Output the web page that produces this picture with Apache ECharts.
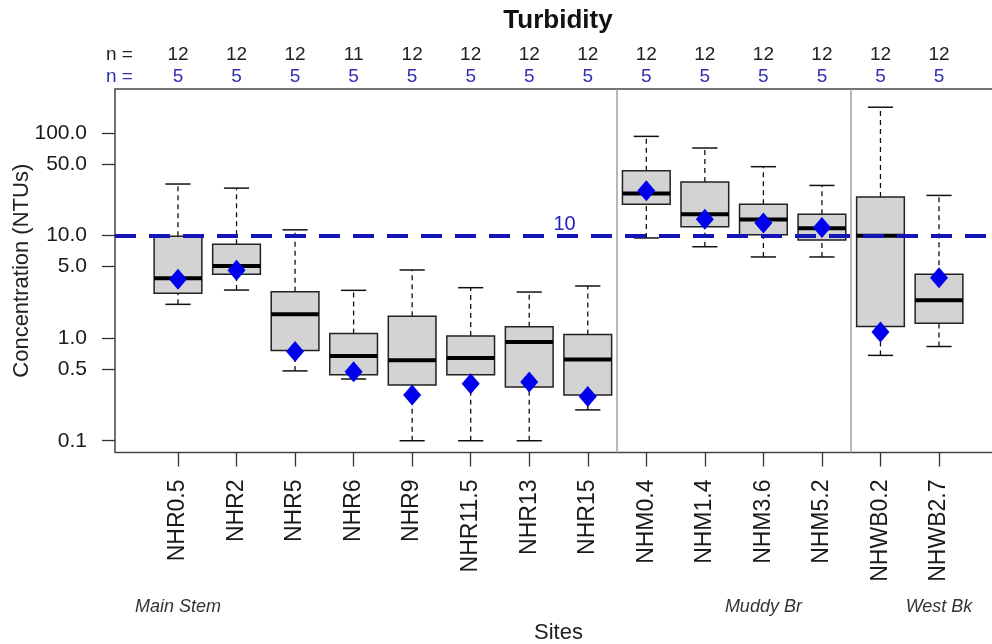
<!DOCTYPE html>
<html>
<head>
<meta charset="utf-8">
<script src="https://cdn.jsdelivr.net/npm/echarts@6/dist/echarts.min.js"></script>
<style>
  html, body { margin: 0; padding: 0; background: #fff; }
  #chart { width: 992px; height: 644px; }
</style>
</head>
<body>
<div id="chart"></div>
<script>
// sites along the x axis (positions 1..14)
const sites = ['NHR0.5', 'NHR2', 'NHR5', 'NHR6', 'NHR9', 'NHR11.5', 'NHR13', 'NHR15',
  'NHM0.4', 'NHM1.4', 'NHM3.6', 'NHM5.2', 'NHWB0.2', 'NHWB2.7'];
// sample counts shown above the plot
const nAll = [12, 12, 12, 11, 12, 12, 12, 12, 12, 12, 12, 12, 12, 12];
const nRecent = [5, 5, 5, 5, 5, 5, 5, 5, 5, 5, 5, 5, 5, 5];
// box stats (NTU)
const whiskerLow = [2.14, 2.95, 0.48, 0.40, 0.10, 0.10, 0.10, 0.20, 9.5, 7.8, 6.2, 6.2, 0.68, 0.83];
const q1 = [2.74, 4.21, 0.76, 0.44, 0.35, 0.44, 0.335, 0.28, 20.3, 12.2, 10.2, 9.1, 1.30, 1.40];
const median = [3.85, 5.07, 1.71, 0.67, 0.61, 0.64, 0.92, 0.62, 25.8, 16.2, 14.4, 11.8, 10.0, 2.34];
const q3 = [9.9, 8.26, 2.84, 1.11, 1.64, 1.05, 1.29, 1.09, 43, 33.4, 20.3, 16.2, 23.9, 4.21];
const whiskerHigh = [31.9, 29.1, 11.4, 2.93, 4.63, 3.11, 2.82, 3.23, 93, 71.6, 47.1, 30.9, 179, 24.7];
// blue diamonds (recent mean)
const means = [3.76, 4.60, 0.74, 0.47, 0.28, 0.36, 0.375, 0.27, 27.4, 14.5, 13.3, 12.0, 1.15, 3.89];
// y ticks
const yTicks = [0.1, 0.5, 1, 5, 10, 50, 100];
const yMin = 0.0768;
const yMax = 269.5;
// groups under the axis
const groupNames = ['Main Stem', 'Muddy Br', 'West Bk'];
const groupPos = [1, 11, 14];
const dividers = [8.5, 12.5];
const standard = 10;

const lg = Math.log10;
const pos = sites.map((s, i) => i + 1);
const xMin = -0.076;
const xMax = 15.076;

const boxData = pos.map((p, i) => [p, lg(whiskerLow[i]), lg(q1[i]), lg(median[i]), lg(q3[i]), lg(whiskerHigh[i])]);
const meanData = pos.map((p, i) => [p, lg(means[i])]);

const FONT = '"Liberation Sans", Arial, sans-serif';

function renderBox(params, api) {
  const x = api.value(0);
  const lo = api.coord([x, api.value(1)]);
  const b1 = api.coord([x, api.value(2)]);
  const md = api.coord([x, api.value(3)]);
  const b3 = api.coord([x, api.value(4)]);
  const hi = api.coord([x, api.value(5)]);
  const hw = api.size([0.815, 0])[0] / 2;
  const cw = api.size([0.43, 0])[0] / 2;
  const dash = { stroke: '#111', lineWidth: 1.3, lineDash: [5, 4] };
  const solid = { stroke: '#111', lineWidth: 1.5 };
  return {
    type: 'group',
    children: [
      { type: 'line', shape: { x1: lo[0], y1: lo[1], x2: b1[0], y2: b1[1] }, style: dash },
      { type: 'line', shape: { x1: b3[0], y1: b3[1], x2: hi[0], y2: hi[1] }, style: dash },
      { type: 'line', shape: { x1: lo[0] - cw, y1: lo[1], x2: lo[0] + cw, y2: lo[1] }, style: solid },
      { type: 'line', shape: { x1: hi[0] - cw, y1: hi[1], x2: hi[0] + cw, y2: hi[1] }, style: solid },
      { type: 'rect', shape: { x: b1[0] - hw, y: b3[1], width: hw * 2, height: b1[1] - b3[1] },
        style: { fill: '#d3d3d3', stroke: '#222', lineWidth: 1.5 } },
      { type: 'line', shape: { x1: md[0] - hw, y1: md[1], x2: md[0] + hw, y2: md[1] },
        style: { stroke: '#000', lineWidth: 4 } }
    ]
  };
}

const chart = echarts.init(document.getElementById('chart'));
chart.setOption({
  animation: false,
  backgroundColor: '#fff',
  title: {
    text: 'Turbidity',
    left: 558,
    top: 8,
    padding: 0,
    textAlign: 'center',
    textStyle: { fontFamily: FONT, fontSize: 26, fontWeight: 'bold', color: '#111' }
  },
  grid: {
    left: 115, top: 89, right: -10, bottom: 191.5,
    show: true, borderColor: '#444', borderWidth: 1.5,
    outerBoundsMode: 'none'
  },
  xAxis: [
    {
      type: 'value', min: xMin, max: xMax, position: 'bottom',
      splitLine: { show: false },
      axisLine: { show: false, onZero: false },
      axisTick: { show: true, customValues: pos, length: 14, lineStyle: { color: '#333', width: 1.3 } },
      axisLabel: {
        customValues: pos, rotate: 90, margin: 27,
        fontFamily: FONT, fontSize: 23, color: '#1a1a1a',
        formatter: v => sites[Math.round(v) - 1]
      },
      name: 'Sites', nameLocation: 'middle', nameGap: 169, nameMoveOverlap: false,
      nameTextStyle: { fontFamily: FONT, fontSize: 22, color: '#222' }
    },
    {
      type: 'value', min: xMin, max: xMax, position: 'top',
      splitLine: { show: false },
      axisLine: { show: false, onZero: false },
      axisTick: { show: false },
      axisLabel: {
        customValues: [0].concat(pos), margin: 1,
        formatter: v => {
          const i = Math.round(v);
          if (i === 0) return '{a|n =}\n{b|n =}';
          return '{a|' + nAll[i - 1] + '}\n{b|' + nRecent[i - 1] + '}';
        },
        rich: {
          a: { fontFamily: FONT, fontSize: 19, lineHeight: 22, color: '#222' },
          b: { fontFamily: FONT, fontSize: 19, lineHeight: 22, color: '#3030b0' }
        }
      }
    },
    {
      type: 'value', min: xMin, max: xMax, position: 'bottom',
      splitLine: { show: false },
      axisLine: { show: false, onZero: false },
      axisTick: { show: false },
      axisLabel: {
        customValues: groupPos, margin: 145,
        fontFamily: FONT, fontSize: 18, fontStyle: 'italic', color: '#333',
        formatter: v => groupNames[groupPos.indexOf(Math.round(v))]
      }
    }
  ],
  yAxis: {
    type: 'value', min: lg(yMin), max: lg(yMax),
    splitLine: { show: false },
    axisLine: { show: false, onZero: false },
    axisTick: { show: true, customValues: yTicks.map(lg), length: 13, lineStyle: { color: '#333', width: 1.3 } },
    axisLabel: {
      customValues: yTicks.map(lg), margin: 28,
      fontFamily: FONT, fontSize: 21, color: '#1a1a1a',
      formatter: v => Math.pow(10, v).toFixed(1)
    },
    name: 'Concentration (NTUs)', nameLocation: 'middle', nameGap: 82, nameRotate: 90,
    nameMoveOverlap: false,
    nameTextStyle: { fontFamily: FONT, fontSize: 22, color: '#222' }
  },
  series: [
    {
      type: 'line', data: [], z: 1, silent: true,
      markLine: {
        silent: true, symbol: 'none', animation: false,
        lineStyle: { color: '#a0a0a0', width: 1.5, type: 'solid' },
        label: { show: false },
        data: dividers.map(d => ({ xAxis: d }))
      }
    },
    {
      type: 'custom', z: 2, renderItem: renderBox, data: boxData,
      encode: { x: 0, y: [1, 2, 3, 4, 5] }
    },
    {
      type: 'line', data: [], z: 3, silent: true,
      markLine: {
        silent: true, symbol: 'none', animation: false,
        lineStyle: { color: '#1515b5', width: 4, type: [21, 13] },
        label: {
          show: true, position: 'insideMiddleTop', distance: 1, offset: [6, 0],
          formatter: String(standard),
          fontFamily: FONT, fontSize: 20, color: '#2020c0'
        },
        data: [{ yAxis: lg(standard) }]
      }
    },
    {
      type: 'scatter', z: 4, data: meanData,
      symbol: 'diamond', symbolSize: [18, 21],
      itemStyle: { color: '#0000ee', opacity: 1 }
    }
  ]
});
</script>
</body>
</html>
